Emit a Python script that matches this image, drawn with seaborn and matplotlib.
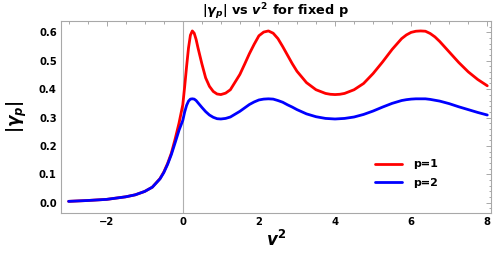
import matplotlib
matplotlib.use("Agg")
import matplotlib.pyplot as plt
from matplotlib.ticker import MultipleLocator
import seaborn as sns
import pandas as pd

# ---- data ----
x_vals = [-3.0, -2.5, -2.0, -1.5, -1.25, -1.0, -0.8, -0.6, -0.5, -0.4, -0.3, -0.2, -0.1,
          0.0, 0.05, 0.1, 0.15, 0.2, 0.25, 0.3, 0.35, 0.4, 0.5, 0.6, 0.7, 0.8, 0.9,
          1.0, 1.125, 1.25, 1.5, 1.625, 1.75, 1.875, 2.0, 2.125, 2.25, 2.375, 2.5, 2.625,
          2.75, 2.875, 3.0, 3.25, 3.5, 3.75, 3.875,
          4.0, 4.125, 4.25, 4.5, 4.75, 5.0, 5.25, 5.5, 5.75, 5.875, 6.0, 6.125, 6.25,
          6.375, 6.5, 6.625, 6.75, 7.0, 7.25, 7.5, 7.75, 8.0]

gamma_p1 = [0.005, 0.008, 0.012, 0.021, 0.028, 0.040, 0.055, 0.085, 0.108, 0.138, 0.175, 0.225, 0.280,
            0.345, 0.410, 0.480, 0.545, 0.590, 0.605, 0.597, 0.575, 0.545, 0.490, 0.440, 0.410, 0.392, 0.383,
            0.381, 0.386, 0.398, 0.452, 0.488, 0.525, 0.558, 0.588, 0.601, 0.605, 0.597, 0.578, 0.550,
            0.520, 0.490, 0.463, 0.423, 0.398, 0.385, 0.382,
            0.381, 0.382, 0.385, 0.398, 0.420, 0.455, 0.496, 0.540, 0.578, 0.591, 0.600, 0.604, 0.605,
            0.604, 0.596, 0.584, 0.568, 0.531, 0.494, 0.461, 0.434, 0.412]

gamma_p2 = [0.005, 0.008, 0.012, 0.021, 0.028, 0.040, 0.055, 0.084, 0.106, 0.135, 0.170, 0.212, 0.255,
            0.290, 0.320, 0.343, 0.358, 0.365, 0.366, 0.365, 0.360, 0.352, 0.336, 0.321, 0.309, 0.301, 0.296,
            0.295, 0.297, 0.302, 0.322, 0.334, 0.346, 0.355, 0.362, 0.365, 0.366, 0.365, 0.360, 0.354,
            0.345, 0.337, 0.328, 0.313, 0.303, 0.297, 0.296,
            0.295, 0.296, 0.297, 0.302, 0.311, 0.323, 0.337, 0.350, 0.360, 0.363, 0.365, 0.366, 0.366,
            0.366, 0.364, 0.361, 0.358, 0.349, 0.338, 0.328, 0.318, 0.309]

series_labels = ["p=1", "p=2"]
x_ticks = [-2, 0, 2, 4, 6, 8]
y_ticks = [0.0, 0.1, 0.2, 0.3, 0.4, 0.5, 0.6]

df = pd.concat([
    pd.DataFrame({"v2": x_vals, "gamma": gamma_p1, "p": series_labels[0]}),
    pd.DataFrame({"v2": x_vals, "gamma": gamma_p2, "p": series_labels[1]}),
], ignore_index=True)

sns.set_style("white")
plt.rcParams["font.family"] = ["DejaVu Sans"]
plt.rcParams["text.color"] = "black"
plt.rcParams["axes.labelcolor"] = "black"
plt.rcParams["mathtext.fontset"] = "custom"
plt.rcParams["mathtext.it"] = "DejaVu Sans:italic:bold"
plt.rcParams["mathtext.rm"] = "DejaVu Sans:bold"
plt.rcParams["mathtext.bf"] = "DejaVu Sans:bold"

fig = plt.figure(figsize=(5.01, 2.56), dpi=100)
ax = fig.add_axes([61 / 501, 1 - 213 / 256, (490.7 - 61) / 501, (213 - 21) / 256])

ax.axvline(0, color="#b0b0b0", lw=0.8, zorder=1)

sns.lineplot(data=df, x="v2", y="gamma", hue="p",
             palette={"p=1": "#ff0000", "p=2": "#0000ff"},
             lw=2.0, ax=ax, sort=False, legend=True, zorder=3)

ax.set_xlim(-3.20, 8.09)
ax.set_ylim(-0.036, 0.64)
ax.set_xticks(x_ticks)
ax.set_xticklabels(["\u22122", "0", "2", "4", "6", "8"])
ax.set_yticks(y_ticks)
ax.set_yticklabels([f"{t:.1f}" for t in y_ticks])
ax.xaxis.set_minor_locator(MultipleLocator(0.5))
ax.yaxis.set_minor_locator(MultipleLocator(0.02))

for s in ax.spines.values():
    s.set_color("#a8a8a8")
    s.set_linewidth(0.8)
ax.tick_params(which="both", direction="in", top=True, right=True,
               color="#a8a8a8", width=0.7, labelcolor="black")
ax.tick_params(which="major", length=3.5, pad=3, labelsize=7.2)
ax.tick_params(which="minor", length=1.8)
for lab in ax.get_xticklabels() + ax.get_yticklabels():
    lab.set_fontweight("bold")

ax.set_xlabel(r"$v^2$", fontsize=12, labelpad=2, color="black")
ax.set_ylabel(r"$|\gamma_p|$", fontsize=12, labelpad=7, color="black")
ax.set_title(r"$|\gamma_p|$ vs $v^2$ for fixed p", fontsize=9.3, fontweight="bold",
             pad=4, color="black")

handles, labels = ax.get_legend_handles_labels()
leg = ax.legend(handles, labels, loc="center left", bbox_to_anchor=(0.731, 0.205),
                frameon=False, fontsize=8, handlelength=2.4, handletextpad=1.0,
                labelspacing=0.75, borderpad=0, borderaxespad=0)
for t in leg.get_texts():
    t.set_fontweight("bold")
    t.set_color("black")

fig.savefig("out.png", dpi=100)
